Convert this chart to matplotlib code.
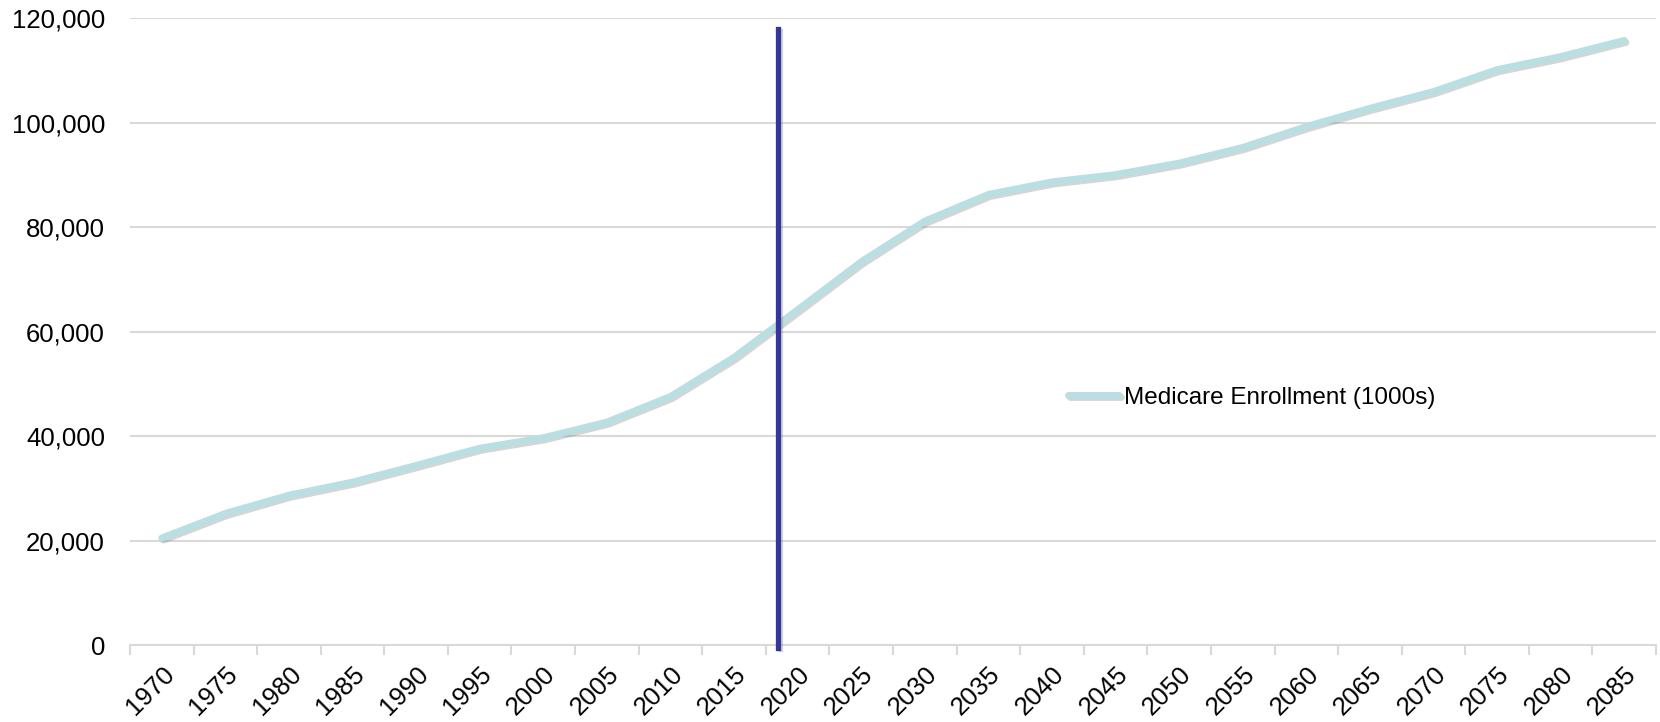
import matplotlib
matplotlib.use("Agg")
import matplotlib.pyplot as plt
import matplotlib.patheffects as pe
from matplotlib.ticker import FuncFormatter, FixedLocator

plt.rcParams['font.family'] = ['Liberation Sans', 'DejaVu Sans']

years = list(range(1970, 2086, 5))
enrollment = [20500, 25200, 28700, 31200, 34400, 37700, 39700, 42700, 47600, 55100,
              64200, 73400, 81200, 86300, 88700, 90100, 92300, 95300, 99300, 102800,
              106000, 110200, 112700, 115800]
marker_year = 2018.45
series_label = 'Medicare Enrollment (1000s)'

fig = plt.figure(figsize=(16.6, 7.22), dpi=100)
ax = fig.add_axes([0.0783, 0.1066, 0.9193, 0.8678])

xs = list(range(len(years)))
ax.plot(xs, enrollment, color='#b9dfe2', lw=5, solid_capstyle='round', label=series_label,
        path_effects=[pe.SimpleLineShadow(offset=(1.2, -1.5), shadow_color='#777777', alpha=0.3),
                      pe.Normal()], zorder=3)

# vertical marker (category coords)
mx = (marker_year - years[0]) / 5
ax.plot([mx, mx], [-500, 118000], color='#35359a', lw=3.8, clip_on=False, zorder=4,
        path_effects=[pe.SimpleLineShadow(offset=(1.2, -1.2), shadow_color='#777777', alpha=0.3),
                      pe.Normal()])

ax.set_xlim(-0.5, len(years) - 0.5)
ax.set_ylim(0, 120000)
ax.set_yticks(range(0, 120001, 20000))
ax.yaxis.set_major_formatter(FuncFormatter(lambda v, p: f'{int(v):,}'))
ax.grid(axis='y', color='#d9d9d9', lw=1.5)
ax.set_axisbelow(True)

ax.set_xticks(xs)
ax.set_xticklabels([str(y) for y in years], rotation=45, ha='right', rotation_mode='anchor')
ax.xaxis.set_minor_locator(FixedLocator([i - 0.5 for i in range(len(years) + 1)]))
ax.tick_params(axis='x', which='major', length=0, pad=12, labelsize=18.5)
ax.tick_params(axis='x', which='minor', length=7, width=1.5, color='#d9d9d9')
ax.tick_params(axis='y', length=0, pad=18, labelsize=18.5)

for s in ['top', 'right', 'left']:
    ax.spines[s].set_visible(False)
ax.spines['bottom'].set_color('#d9d9d9')
ax.spines['bottom'].set_linewidth(1.5)

ax.legend(loc='center left', bbox_to_anchor=(0.6434, 0.449), bbox_transform=fig.transFigure,
          frameon=False, fontsize=17.5, handlelength=2.1, handletextpad=0.2,
          borderaxespad=0, borderpad=0)

fig.savefig('out.png', dpi=100)
